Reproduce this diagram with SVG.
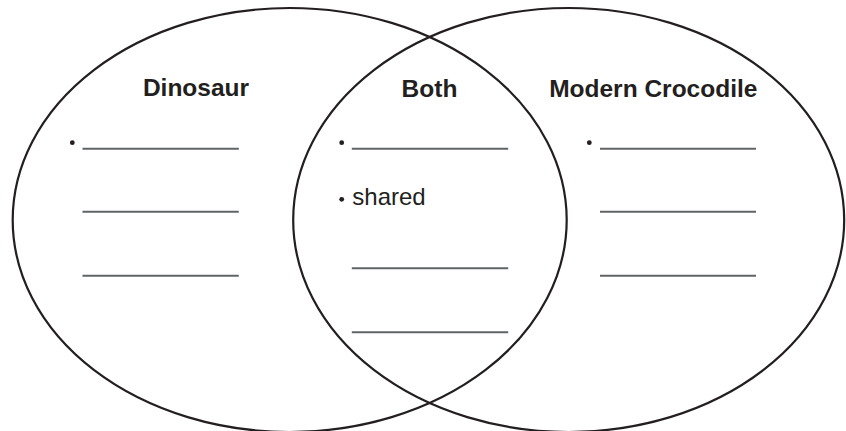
<svg xmlns="http://www.w3.org/2000/svg" width="846" height="431" viewBox="0 0 846 431">
  <style>
    .ring { fill: none; stroke: #231f20; stroke-width: 2.2; }
    .blank { stroke: #626366; stroke-width: 2; }
    .head { font-family: "Liberation Sans", Arial, sans-serif; font-weight: bold; font-size: 24.5px; fill: #231f20; text-anchor: middle; }
    .body { font-family: "Liberation Sans", Arial, sans-serif; font-size: 24px; fill: #231f20; }
    .dot { fill: #231f20; }
  </style>
  <rect width="846" height="431" fill="#ffffff"/>

  <!-- the two overlapping sets -->
  <g id="connectors">
    <ellipse class="ring" cx="289.7" cy="220" rx="277" ry="212"/>
    <ellipse class="ring" cx="568.7" cy="220" rx="275.5" ry="212"/>
  </g>

  <!-- left set -->
  <g id="dinosaur">
    <text class="head" x="196" y="96">Dinosaur</text>
    <circle class="dot" cx="72.3" cy="142.7" r="2.4"/>
    <line class="blank" x1="82.5" y1="148.7" x2="238.8" y2="148.7"/>
    <line class="blank" x1="82.5" y1="211.7" x2="238.8" y2="211.7"/>
    <line class="blank" x1="82.5" y1="275.7" x2="238.8" y2="275.7"/>
  </g>

  <!-- overlap -->
  <g id="both">
    <text class="head" x="429.5" y="97">Both</text>
    <circle class="dot" cx="341.7" cy="142.7" r="2.4"/>
    <line class="blank" x1="351.8" y1="148.7" x2="508.2" y2="148.7"/>
    <circle class="dot" cx="341.7" cy="199.3" r="2.4"/>
    <text class="body" x="352.3" y="205">shared</text>
    <line class="blank" x1="351.8" y1="268.2" x2="508.2" y2="268.2"/>
    <line class="blank" x1="351.8" y1="332.2" x2="508.2" y2="332.2"/>
  </g>

  <!-- right set -->
  <g id="modern-crocodile">
    <text class="head" x="653.3" y="96.5">Modern Crocodile</text>
    <circle class="dot" cx="589.3" cy="142.7" r="2.4"/>
    <line class="blank" x1="600" y1="148.7" x2="756" y2="148.7"/>
    <line class="blank" x1="600" y1="211.7" x2="756" y2="211.7"/>
    <line class="blank" x1="600" y1="275.7" x2="756" y2="275.7"/>
  </g>
</svg>
